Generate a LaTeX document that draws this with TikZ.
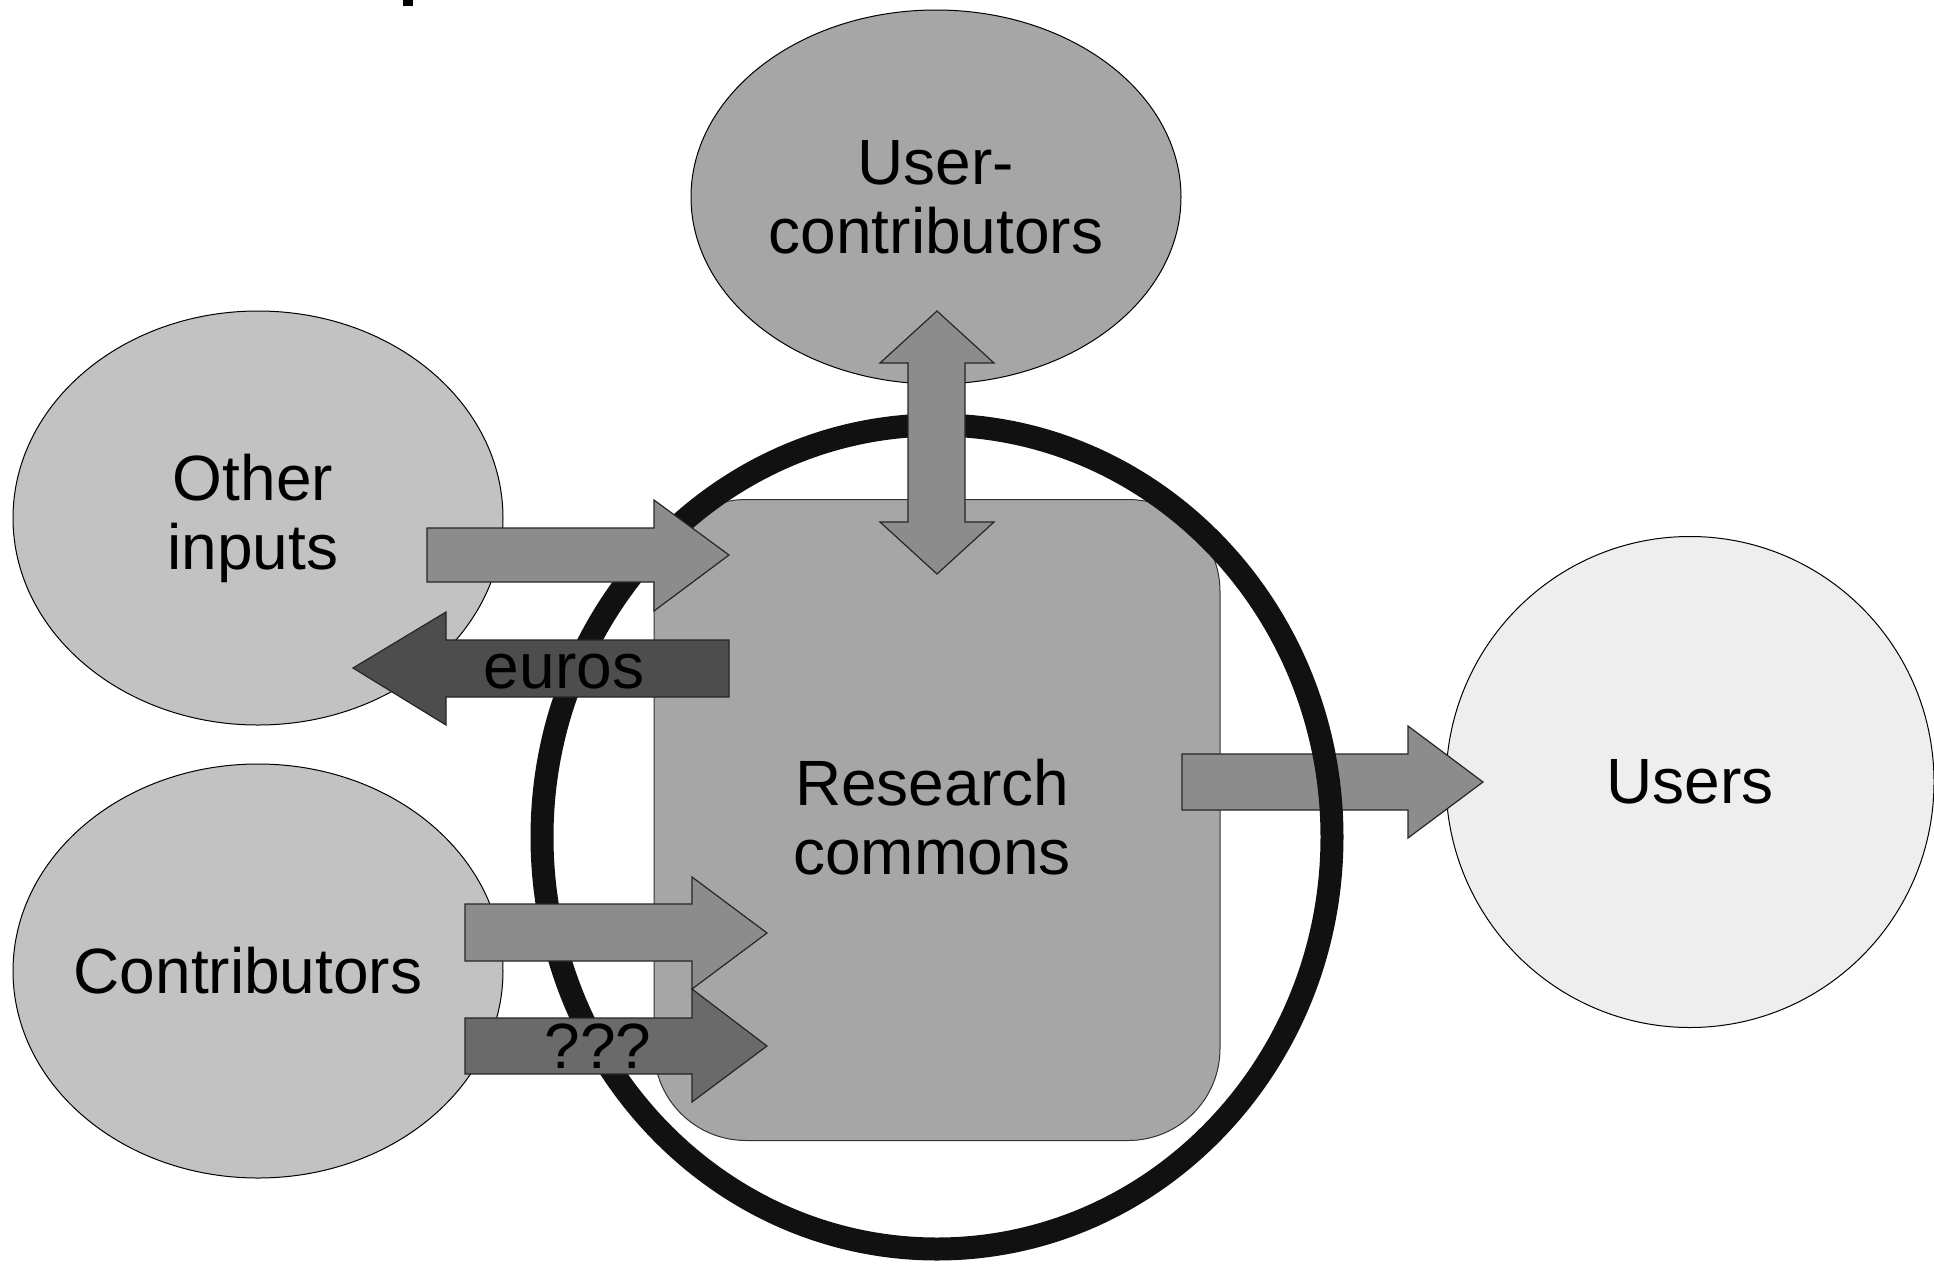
\documentclass[tikz,border=0pt]{standalone}
\usepackage{fontspec}
\setmainfont{Liberation Sans}
\usetikzlibrary{shapes.geometric}

\definecolor{midgrey}{HTML}{A6A6A6}
\definecolor{softgrey}{HTML}{C2C2C2}
\definecolor{palegrey}{HTML}{EEEEEE}
\definecolor{flowgrey}{HTML}{8C8C8C}
\definecolor{eurogrey}{HTML}{4D4D4D}
\definecolor{askgrey}{HTML}{6A6A6A}
\definecolor{ringblack}{HTML}{111111}

\tikzset{
  party/.style={ellipse, draw=black, line width=0.5pt, inner sep=0pt},
  flow/.style={fill=flowgrey, draw=black!85, line width=0.6pt, line join=miter},
  label/.style={font=\fontsize{32}{34.5}\selectfont, inner sep=0pt, align=center}
}

\begin{document}
\begin{tikzpicture}[x=0.5pt, y=-0.5pt]

  \useasboundingbox (0,0) rectangle (1934,1264);

  % bit of the heading cut off at the top
  \fill (403,0) rectangle (413,6);

  % the outside parties
  \node[party, fill=midgrey, minimum width=245pt, minimum height=187pt]
    (usercontrib) at (936,197) {};
  \node[label] at (usercontrib) {User-\\contributors};
  \node[party, fill=softgrey, minimum width=245pt, minimum height=207pt]
    (otherinputs) at (258,518) {};
  \node[label] at ([xshift=-2.5pt]otherinputs) {Other\\inputs};
  \node[party, fill=softgrey, minimum width=245pt, minimum height=207pt]
    (contributors) at (258,971) {};
  \node[label] at ([xshift=-5pt]contributors) {Contributors};
  \node[party, fill=palegrey, minimum width=244pt, minimum height=245.5pt]
    (users) at (1690,782) {};
  \node[label] at (users) {Users};

  % the commons itself
  \node[rectangle, rounded corners=46pt, fill=midgrey, draw=black!80,
    line width=0.5pt, minimum width=283pt, minimum height=320.5pt]
    (commons) at (937,820) {};
  \node[label] at ([xshift=-2.5pt, yshift=1.5pt]commons) {Research\\commons};

  % output to the users, lies under the ring
  \draw[flow] (1182,754) -- (1408,754) -- (1408,726) -- (1483,782)
    -- (1408,838) -- (1408,810) -- (1182,810) -- cycle;

  % the ring round the commons
  \draw[ringblack, line width=11.5pt] (937,837) ellipse [x radius=395, y radius=412];

  % exchange with the user-contributors
  \draw[flow] (908,363) -- (880,363) -- (937,311) -- (994,363) -- (965,363)
    -- (965,522) -- (994,522) -- (937,574) -- (880,522) -- (908,522) -- cycle;

  % other inputs come in, euros go out
  \draw[flow] (427,528) -- (654,528) -- (654,500) -- (729,555)
    -- (654,611) -- (654,582) -- (427,582) -- cycle;
  \draw[flow, fill=eurogrey] (729,640) -- (446,640) -- (446,612) -- (353,668)
    -- (446,725) -- (446,697) -- (729,697) -- cycle;
  \node[label] (euros) at (564,672) {euros};

  % the two flows from the contributors
  \draw[flow] (465,904) -- (692,904) -- (692,877) -- (767,933)
    -- (692,989) -- (692,961) -- (465,961) -- cycle;
  \draw[flow, fill=askgrey] (465,1018) -- (692,1018) -- (692,989) -- (767,1046)
    -- (692,1102) -- (692,1074) -- (465,1074) -- cycle;
  \node[label] (unknown) at (598,1046) {???};

\end{tikzpicture}
\end{document}
